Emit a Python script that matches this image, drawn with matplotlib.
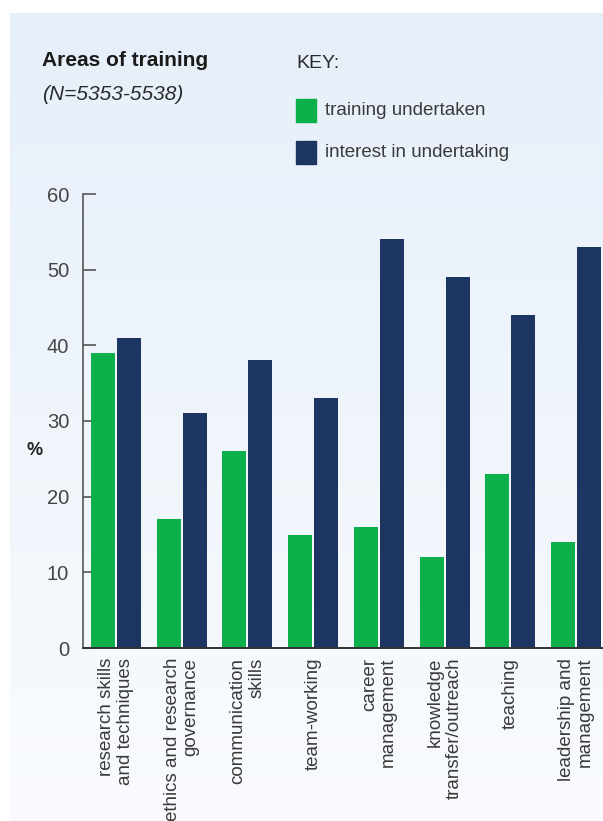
import numpy as np
import matplotlib
matplotlib.use("Agg")
import matplotlib.pyplot as plt
from matplotlib.colors import LinearSegmentedColormap
from matplotlib.patches import Rectangle

plt.rcParams['font.family'] = ['Liberation Sans', 'DejaVu Sans']

categories = [
    "research skills\nand techniques",
    "ethics and research\ngovernance",
    "communication\nskills",
    "team-working",
    "career\nmanagement",
    "knowledge\ntransfer/outreach",
    "teaching",
    "leadership and\nmanagement",
]
training_undertaken = [39, 17, 26, 15, 16, 12, 23, 14]
interest_in_undertaking = [41, 31, 38, 33, 54, 49, 44, 53]
y_ticks = [0, 10, 20, 30, 40, 50, 60]

GREEN = "#0cb04b"
NAVY = "#1d3661"
TEXT = "#3a3a3a"

W, H = 603, 821
fig = plt.figure(figsize=(W / 100, H / 100), dpi=100, facecolor="white")

# background panel with soft vertical gradient
bg = fig.add_axes([10 / W, 0, 1 - 10 / W, (H - 13) / H])
bg.set_axis_off()
cmap = LinearSegmentedColormap.from_list("panel", ["#f9fbfe", "#e6eff9"])
grad = np.linspace(0, 1, 256).reshape(-1, 1)
bg.imshow(grad, aspect="auto", cmap=cmap, origin="lower", extent=[0, 1, 0, 1])
bg.set_xlim(0, 1)
bg.set_ylim(0, 1)

# main chart axes
x0, x1 = 83, 603
y_top, y_bot = 194, 648
ax = fig.add_axes([x0 / W, 1 - y_bot / H, (x1 - x0) / W, (y_bot - y_top) / H])
ax.set_facecolor("none")

x = np.arange(len(categories))
bw = 0.365
off = 0.197
ax.bar(x - off, training_undertaken, width=bw, color=GREEN, zorder=2)
ax.bar(x + off, interest_in_undertaking, width=bw, color=NAVY, zorder=2)

ax.set_xlim(-0.5, 7.41)
ax.set_ylim(0, 60)
ax.set_yticks(y_ticks)
ax.set_yticklabels([str(t) for t in y_ticks], fontsize=14.5, color="#444444")
ax.tick_params(axis="y", direction="in", length=9, width=1.2, color="#555555", pad=10)
ax.set_xticks(x)
ax.set_xticklabels(categories, rotation=90, fontsize=13.5, color=TEXT,
                   ha="center", va="top", multialignment="right",
                   linespacing=1.12)
ax.tick_params(axis="x", length=0, pad=7)

for s in ["top", "right"]:
    ax.spines[s].set_visible(False)
ax.spines["left"].set_color("#555555")
ax.spines["left"].set_linewidth(1.2)
ax.spines["bottom"].set_color("#333333")
ax.spines["bottom"].set_linewidth(1.4)

fig.text(35 / W, 1 - 450 / H, "%", fontsize=13, fontweight="bold",
         color="#222222", ha="center", va="center")

# title block
fig.text(42 / W, 1 - 61 / H, "Areas of training", fontsize=15, fontweight="bold",
         color="#1a1a1a", ha="left", va="center")
fig.text(42 / W, 1 - 95 / H, "(N=5353-5538)", fontsize=15, fontstyle="italic",
         color="#2a2a2a", ha="left", va="center")

# key
fig.text(296 / W, 1 - 63 / H, "KEY:", fontsize=14, color="#2a2a2a",
         ha="left", va="center")
for yc, col, lab in [(110.5, GREEN, "training undertaken"),
                     (152.5, NAVY, "interest in undertaking")]:
    fig.patches.append(Rectangle((296 / W, 1 - (yc + 11.5) / H), 20 / W, 23 / H,
                                 transform=fig.transFigure, color=col))
    fig.text(325 / W, 1 - yc / H, lab, fontsize=13.5, color="#3a3a3a",
             ha="left", va="center")

fig.savefig("out.png", dpi=100, facecolor="white")
